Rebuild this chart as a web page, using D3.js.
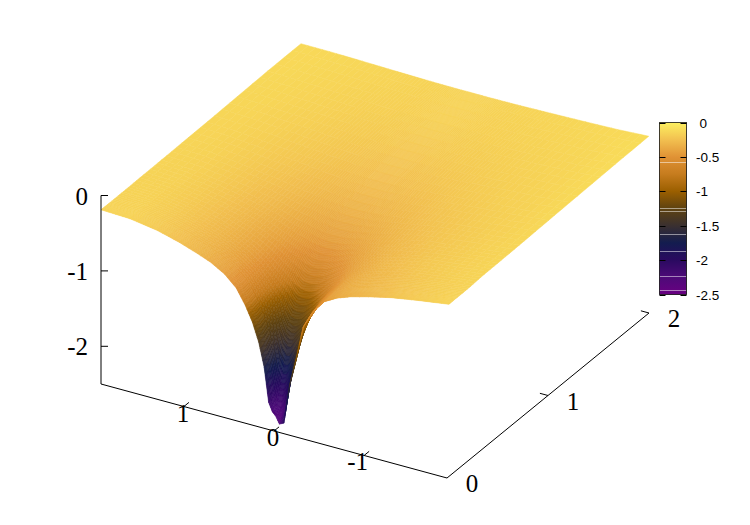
<!DOCTYPE html>
<html>
<head>
<meta charset="utf-8">
<script src="https://cdn.jsdelivr.net/npm/d3@7"></script>
<style>
body { margin: 0; background: #fff; }
.big { font-family: "Liberation Serif", serif; font-size: 25px; fill: #000; }
.small { font-family: "Liberation Sans", sans-serif; font-size: 13.5px; fill: #000; }
</style>
</head>
<body>
<div id="chart"></div>
<script>
// values
var xValues = [1.92,1.6,1.3,1.05,.85,.7,.55,.42,.32,.24,.17,.11,.06,.02,-.02,-.06,-.11,-.17,-.24,-.32,-.42,-.55,-.7,-.85,-1.05,-1.3,-1.6,-1.94];
var yValues = [0,.02,.05,.09,.15,.22,.32,.45,.6,.8,1.05,1.35,1.65,1.98];

// one row per y value, one column per x value
var zRows = [
  [-.19,-.204,-.26,-.34,-.423,-.493,-.597,-.74,-.935,-1.134,-1.378,-1.69,-2.14,-2.25,-2.30,-2.39,-2.36,-1.86,-1.50,-1.03,-.80,-.61,-.51,-.445,-.38,-.31,-.25,-.19],
  [-.19,-.204,-.26,-.34,-.42,-.49,-.595,-.74,-.93,-1.13,-1.37,-1.68,-2.12,-2.28,-2.30,-2.33,-2.18,-1.76,-1.42,-1.00,-.79,-.61,-.51,-.44,-.38,-.31,-.25,-.19],
  [-.19,-.204,-.26,-.34,-.42,-.49,-.59,-.73,-.92,-1.11,-1.35,-1.64,-2.00,-2.22,-2.25,-2.15,-1.92,-1.58,-1.29,-1.00,-.78,-.60,-.50,-.44,-.375,-.305,-.25,-.19],
  [-.19,-.204,-.26,-.34,-.42,-.49,-.585,-.72,-.90,-1.09,-1.31,-1.55,-1.82,-1.97,-1.97,-1.88,-1.68,-1.40,-1.16,-.95,-.76,-.59,-.49,-.43,-.37,-.30,-.245,-.19],
  [-.19,-.204,-.26,-.335,-.41,-.485,-.58,-.70,-.86,-1.02,-1.20,-1.35,-1.47,-1.55,-1.55,-1.47,-1.37,-1.24,-1.06,-.89,-.72,-.58,-.48,-.42,-.36,-.295,-.24,-.19],
  [-.19,-.204,-.26,-.33,-.40,-.475,-.565,-.68,-.82,-.96,-1.07,-1.17,-1.24,-1.26,-1.26,-1.24,-1.17,-1.09,-.99,-.85,-.70,-.56,-.47,-.41,-.355,-.29,-.235,-.188],
  [-.188,-.204,-.255,-.32,-.39,-.46,-.54,-.64,-.74,-.82,-.90,-.96,-.99,-1.00,-1.00,-.99,-.96,-.90,-.82,-.74,-.64,-.54,-.46,-.39,-.33,-.27,-.225,-.178],
  [-.186,-.204,-.25,-.31,-.37,-.42,-.49,-.56,-.62,-.66,-.70,-.72,-.73,-.74,-.74,-.73,-.72,-.70,-.66,-.62,-.56,-.49,-.42,-.37,-.32,-.265,-.22,-.175],
  [-.184,-.20,-.245,-.295,-.35,-.385,-.43,-.48,-.51,-.53,-.55,-.565,-.57,-.57,-.57,-.57,-.565,-.55,-.53,-.51,-.48,-.43,-.385,-.35,-.30,-.26,-.215,-.172],
  [-.18,-.196,-.235,-.28,-.31,-.34,-.37,-.39,-.41,-.42,-.43,-.435,-.44,-.44,-.44,-.44,-.435,-.43,-.42,-.41,-.39,-.37,-.34,-.31,-.28,-.245,-.21,-.165],
  [-.175,-.19,-.22,-.25,-.27,-.29,-.305,-.32,-.33,-.335,-.34,-.343,-.345,-.345,-.345,-.345,-.343,-.34,-.335,-.33,-.32,-.305,-.29,-.27,-.25,-.22,-.197,-.155],
  [-.165,-.178,-.20,-.215,-.232,-.245,-.25,-.258,-.263,-.266,-.268,-.27,-.27,-.27,-.27,-.27,-.27,-.268,-.266,-.263,-.258,-.25,-.245,-.232,-.215,-.20,-.182,-.145],
  [-.155,-.165,-.182,-.193,-.20,-.208,-.212,-.216,-.218,-.22,-.22,-.22,-.22,-.22,-.22,-.22,-.22,-.22,-.22,-.218,-.216,-.212,-.208,-.20,-.193,-.182,-.168,-.135],
  [-.153,-.155,-.162,-.17,-.176,-.18,-.184,-.187,-.188,-.189,-.19,-.19,-.19,-.19,-.19,-.19,-.19,-.19,-.189,-.188,-.187,-.184,-.18,-.176,-.17,-.162,-.15,-.127]
];

// the front rim on the x<0 side is painted lighter than its height
var rimX = [-.06,-.11,-.17,-.24,-.32,-.42,-.55];
var rimColour = [-2.30,-2.00,-1.50,-1.10,-.85,-.76,-.66];

var paletteValues = [0,-.25,-.5,-.75,-1,-1.25,-1.5,-1.75,-2,-2.25,-2.5];
var paletteColours = ["#fdf060","#f2c050","#e09235","#c67c1e","#9b5f00","#5e4210","#3a3030","#131c4f","#2a0a60","#4d0a78","#6a0082"];
var colourbarSeams = [-.58,-1.24,-1.29,-1.62,-1.87,-2.23,-2.43];

// heights on the upper sheet sit further up the palette than their value
var shadeHeights = [0,-.19,-.36,-.6,-.74,-.93,-1.05,-2.5];
var shadeValues = [0,-.15,-.27,-.43,-.55,-.78,-1.02,-2.5];

var xTicks = [1,0,-1];
var xTickLabels = ["1","0","-1"];
var yTicks = [0,1,2];
var yTickLabels = ["0","1","2"];
var zTicks = [0,-1,-2];
var zTickLabels = ["0","-1","-2"];
var cbTicks = [0,-.5,-1,-1.5,-2,-2.5];
var cbTickLabels = ["0","-0.5","-1","-1.5","-2","-2.5"];

var width = 750, height = 525;

var svg = d3.select("#chart").append("svg")
    .attr("width", width)
    .attr("height", height);

// projection of the box, built from plain scales
var xToScreenX = d3.scaleLinear().domain([1.92,-1.92]).range([101,447]);
var xToScreenY = d3.scaleLinear().domain([1.92,-1.92]).range([384,478]);
var yToShiftX = d3.scaleLinear().domain([0,2]).range([0,202]);
var yToShiftY = d3.scaleLinear().domain([0,2]).range([0,-165]);
var zToLift = d3.scaleLinear().domain([-2.5,0]).range([0,188.5]);
var color = d3.scaleLinear().domain(paletteValues).range(paletteColours).clamp(true);
var shade = d3.scaleLinear().domain(shadeHeights).range(shadeValues).clamp(true);

function project(x, y, z) {
    return [xToScreenX(x) + yToShiftX(y), xToScreenY(x) + yToShiftY(y) - zToLift(z)];
}

// colour grid starts as the heights, then the rim is swapped in
var colourRows = zRows.map(function (row) { return row.slice(); });
rimX.forEach(function (x, i) {
    colourRows[0][xValues.indexOf(x)] = rimColour[i];
});

// pm3d style: each grid cell gets painted as a few small quads
var steps = 4;
var quads = [];
for (var j = 0; j < yValues.length - 1; j++) {
    for (var i = 0; i < xValues.length - 1; i++) {
        for (var a = 0; a < steps; a++) {
            for (var b = 0; b < steps; b++) {
                quads.push(makeQuad(i, j, a / steps, b / steps, (a + 1) / steps, (b + 1) / steps));
            }
        }
    }
}

function blend(rows, i, j, u, v) {
    var top = rows[j][i] * (1 - u) + rows[j][i + 1] * u;
    var bottom = rows[j + 1][i] * (1 - u) + rows[j + 1][i + 1] * u;
    return top * (1 - v) + bottom * v;
}

function makeQuad(i, j, u0, v0, u1, v1) {
    var corners = [[u0,v0],[u1,v0],[u1,v1],[u0,v1]];
    var pts = corners.map(function (c) {
        var x = xValues[i] + (xValues[i + 1] - xValues[i]) * c[0];
        var y = yValues[j] + (yValues[j + 1] - yValues[j]) * c[1];
        return project(x, y, blend(zRows, i, j, c[0], c[1]));
    });
    var um = (u0 + u1) / 2, vm = (v0 + v1) / 2;
    var xm = xValues[i] + (xValues[i + 1] - xValues[i]) * um;
    var ym = yValues[j] + (yValues[j + 1] - yValues[j]) * vm;
    return {
        pts: pts,
        depth: xToScreenY(xm) + yToShiftY(ym),
        fill: color(shade(blend(colourRows, i, j, um, vm)))
    };
}

quads.sort(function (p, q) { return p.depth - q.depth; });

var line = d3.line();
svg.append("g").attr("class", "surface")
    .selectAll("path")
    .data(quads)
    .enter().append("path")
    .attr("d", function (d) { return line(d.pts) + "Z"; })
    .attr("fill", function (d) { return d.fill; })
    .attr("stroke", function (d) { return d.fill; })
    .attr("stroke-width", 0.5);

// box axes
var axes = svg.append("g").attr("fill", "none").attr("stroke", "#000").attr("stroke-width", 1);

function segment(p, q) {
    axes.append("line")
        .attr("x1", p[0]).attr("y1", p[1])
        .attr("x2", q[0]).attr("y2", q[1]);
}

segment(project(1.92,0,-2.5), project(-1.92,0,-2.5));
segment(project(-1.92,0,-2.5), project(-1.92,2,-2.5));
segment(project(1.92,0,-2.5), project(1.92,0,0));

xTicks.forEach(function (t) {
    segment(project(t,0,-2.5), project(t,.05,-2.5));
});
yTicks.slice(1).forEach(function (t) {
    segment(project(-1.92,t,-2.5), project(-1.83,t,-2.5));
});
zTicks.forEach(function (t) {
    var p = project(1.92,0,t);
    segment(p, [p[0] + 7, p[1]]);
});

// tick labels hang a fixed way off the axis
var texts = svg.append("g");

function label(cls, x, y, anchor, s) {
    texts.append("text")
        .attr("class", cls)
        .attr("x", x).attr("y", y)
        .attr("text-anchor", anchor)
        .text(s);
}

zTicks.forEach(function (t, i) {
    var p = project(1.92,0,t);
    label("big", p[0] - 13, p[1] + 9, "end", zTickLabels[i]);
});
xTicks.forEach(function (t, i) {
    var p = project(t,0,-2.5);
    label("big", p[0] + (t < 0 ? 4 : -1), p[1] + 15, t < 0 ? "end" : "middle", xTickLabels[i]);
});
yTicks.forEach(function (t, i) {
    var p = project(-1.92,t,-2.5);
    label("big", p[0] + 25, p[1] + 14, "middle", yTickLabels[i]);
});

// colour box
var cbX = 659.5, cbW = 27;
var cbScale = d3.scaleLinear().domain([0,-2.5]).range([122.5,294.5]);

var grad = svg.append("defs").append("linearGradient")
    .attr("id", "cbGradient")
    .attr("x1", "0%").attr("y1", "0%")
    .attr("x2", "0%").attr("y2", "100%");

grad.selectAll("stop")
    .data(paletteValues)
    .enter().append("stop")
    .attr("offset", function (d) { return (-d / 2.5 * 100) + "%"; })
    .attr("stop-color", function (d) { return color(d); });

svg.append("rect")
    .attr("x", cbX).attr("y", cbScale(0))
    .attr("width", cbW).attr("height", cbScale(-2.5) - cbScale(0))
    .style("fill", "url(#cbGradient)");

svg.selectAll("line.seam")
    .data(colourbarSeams)
    .enter().append("line")
    .attr("class", "seam")
    .attr("x1", cbX).attr("x2", cbX + cbW)
    .attr("y1", function (d) { return Math.round(cbScale(d)) + .5; })
    .attr("y2", function (d) { return Math.round(cbScale(d)) + .5; })
    .attr("stroke", "#fff").attr("stroke-opacity", 0.5);

svg.append("rect")
    .attr("x", cbX).attr("y", cbScale(0))
    .attr("width", cbW).attr("height", cbScale(-2.5) - cbScale(0))
    .attr("fill", "none").attr("stroke", "#000").attr("stroke-opacity", 0.75);

cbTicks.forEach(function (t, i) {
    var y = Math.round(cbScale(t)) + .5;
    svg.append("line").attr("x1", cbX).attr("x2", cbX + 6).attr("y1", y).attr("y2", y).attr("stroke", "#000");
    svg.append("line").attr("x1", cbX + cbW - 6).attr("x2", cbX + cbW).attr("y1", y).attr("y2", y).attr("stroke", "#000");
    label("small", t === 0 ? 699.5 : 696, cbScale(t) + 5, "start", cbTickLabels[i]);
});
</script>
</body>
</html>
